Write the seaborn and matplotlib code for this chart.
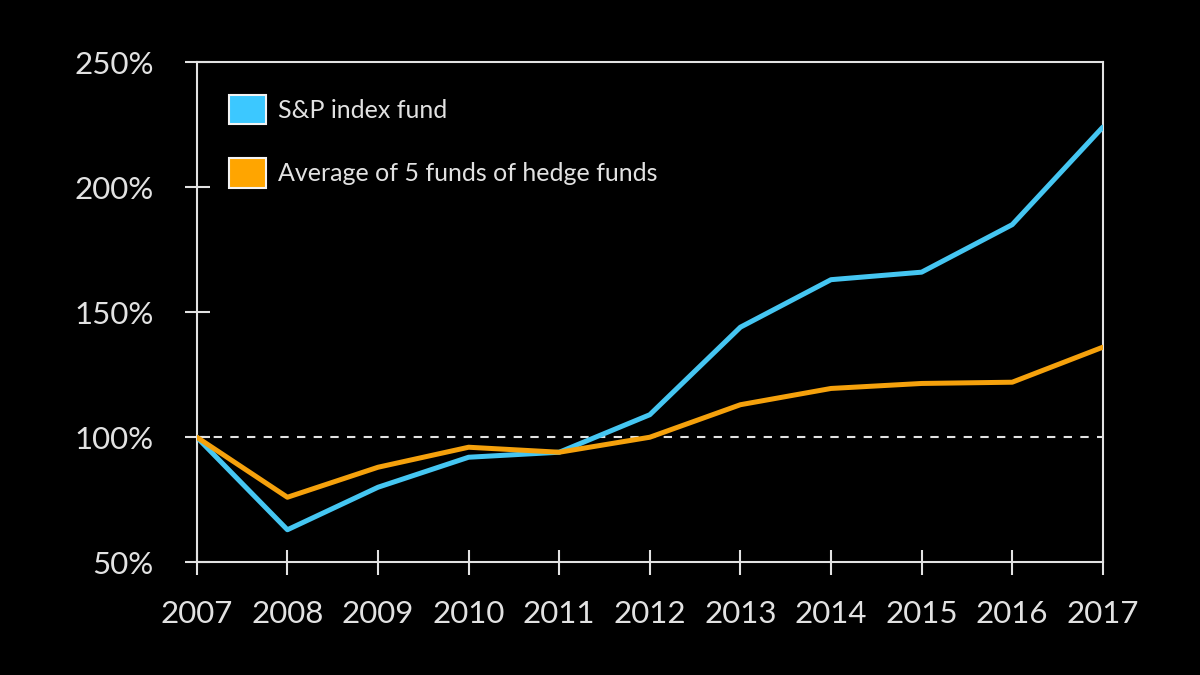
import matplotlib
matplotlib.use("Agg")
import matplotlib.pyplot as plt
from matplotlib.patches import Patch
import pandas as pd
import seaborn as sns

# values (growth of $1 invested in 2007, in %)
years = [2007, 2008, 2009, 2010, 2011, 2012, 2013, 2014, 2015, 2016, 2017]
sp_index = [100, 63, 80, 92, 94, 109, 144, 163, 166, 185, 224]
hedge_funds = [100, 76, 88, 96, 94, 100, 113, 119.5, 121.5, 122, 136]
series_names = ["S&P index fund", "Average of 5 funds of hedge funds"]
y_ticks = [50, 100, 150, 200, 250]

line_colors = {series_names[0]: "#45c6f2", series_names[1]: "#f5a10c"}
patch_colors = ["#3cc8ff", "#ffa500"]

df = pd.DataFrame({
    "year": years * 2,
    "value": sp_index + hedge_funds,
    "series": [series_names[0]] * len(years) + [series_names[1]] * len(years),
})

sns.set_theme(style="dark")
plt.rcParams["font.family"] = ["Lato", "DejaVu Sans"]
fg = "#e2e2e2"

fig = plt.figure(figsize=(12, 6.75), dpi=100, facecolor="black")
ax = fig.add_axes([0.164, 0.167, 0.755, 0.741])
ax.set_facecolor("black")

# reference line at 100%
ax.axhline(100, color=fg, lw=1.5, ls=(0, (4, 4)), zorder=1)

sns.lineplot(data=df, x="year", y="value", hue="series", palette=line_colors,
             linewidth=3.6, legend=False, ax=ax, zorder=3)

ax.set_xlim(years[0], years[-1])
ax.set_ylim(y_ticks[0], y_ticks[-1])
ax.set_xticks(years)
ax.set_xticklabels([str(y) for y in years])
ax.set_yticks(y_ticks)
ax.set_yticklabels([f"{v}%" for v in y_ticks])
ax.set_xlabel("")
ax.set_ylabel("")

for side in ["left", "right", "top", "bottom"]:
    ax.spines[side].set_visible(True)
    ax.spines[side].set_color(fg)
    ax.spines[side].set_linewidth(1.5)

ax.tick_params(axis="both", direction="inout", length=18, width=1.5,
               color=fg, labelcolor=fg, labelsize=22.5,
               bottom=True, left=True)
ax.tick_params(axis="x", pad=18)
ax.tick_params(axis="y", pad=22)

handles = [Patch(facecolor=c, edgecolor="#f3f3f3", linewidth=1.5) for c in patch_colors]
leg = ax.legend(handles, series_names, loc="upper left",
                bbox_to_anchor=(0.036, 0.935), frameon=False,
                fontsize=18, handlelength=1.45, handleheight=1.45,
                handletextpad=0.5, labelspacing=1.35,
                borderpad=0, borderaxespad=0)
for t in leg.get_texts():
    t.set_color(fg)

fig.savefig("out.png", dpi=100, facecolor="black")
